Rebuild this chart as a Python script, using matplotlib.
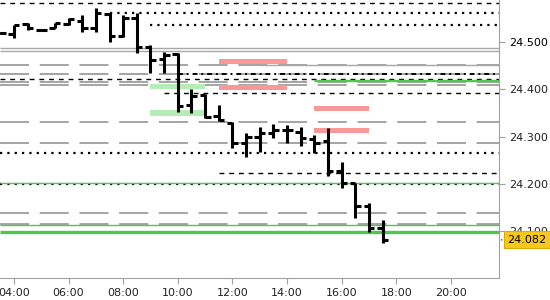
import numpy as np
import matplotlib
matplotlib.use("Agg")
import matplotlib.pyplot as plt
from matplotlib.patches import Rectangle

# 30-minute OHLC bars, time in hours
times = [3.5, 4.0, 4.5, 5.0, 5.5, 6.0, 6.5, 7.0, 7.5, 8.0, 8.5, 9.0, 9.5, 10.0,
         10.5, 11.0, 11.5, 12.0, 12.5, 13.0, 13.5, 14.0, 14.5, 15.0, 15.5,
         16.0, 16.5, 17.0, 17.5]
opens = [24.519, 24.517, 24.538, 24.525, 24.530, 24.538, 24.544, 24.530, 24.559,
         24.513, 24.551, 24.489, 24.464, 24.475, 24.367, 24.388, 24.344, 24.329,
         24.287, 24.299, 24.308, 24.314, 24.310, 24.295, 24.291, 24.227, 24.202,
         24.153, 24.107]
highs = [24.521, 24.536, 24.540, 24.527, 24.541, 24.551, 24.557, 24.572, 24.561,
         24.557, 24.561, 24.494, 24.479, 24.477, 24.401, 24.390, 24.367, 24.331,
         24.308, 24.320, 24.327, 24.325, 24.320, 24.304, 24.318, 24.246, 24.202,
         24.160, 24.124]
lows = [24.517, 24.508, 24.525, 24.523, 24.529, 24.536, 24.521, 24.521, 24.500,
        24.511, 24.477, 24.435, 24.435, 24.352, 24.350, 24.339, 24.333, 24.276,
        24.257, 24.268, 24.297, 24.287, 24.280, 24.265, 24.217, 24.192, 24.128,
        24.099, 24.075]
closes = [24.519, 24.536, 24.530, 24.525, 24.540, 24.549, 24.530, 24.561, 24.513,
          24.551, 24.489, 24.462, 24.473, 24.365, 24.386, 24.342, 24.335, 24.287,
          24.299, 24.308, 24.314, 24.314, 24.297, 24.287, 24.227, 24.202, 24.153,
          24.107, 24.082]

last_price = 24.082

# horizontal levels: (price, start hour or None for full width)
black_dashed = [(24.582, None), (24.422, None), (24.392, 9.5), (24.223, 11.5)]
black_dotted = [(24.562, 7.5), (24.536, 9.0), (24.265, None), (24.200, None)]
black_dashdot = [(24.432, 10.0)]
gray_solid = [(24.487, None), (24.482, None), (24.452, 13.0)]
gray_longdash = [24.452, 24.432, 24.415, 24.409, 24.331, 24.287, 24.139, 24.115]
green_thin = [(24.419, 15.0), (24.418, 15.0), (24.202, None), (24.113, None)]
green_thick = [24.098]

# zones: (start hour, end hour, low, high)
green_zones = [(9.0, 11.0, 24.401, 24.411), (9.0, 11.0, 24.344, 24.356)]
red_zones = [(11.5, 14.0, 24.454, 24.464), (11.5, 14.0, 24.399, 24.409),
             (15.0, 17.0, 24.354, 24.365), (15.0, 17.0, 24.308, 24.318)]

xmin, xmax = 3.49, 21.76
ymin, ymax = 24.0014, 24.5887

fig = plt.figure(figsize=(5.5, 3.0), dpi=100)
ax = fig.add_axes([0.0, 0.0733, 0.9073, 0.9267])
ax.set_xlim(xmin, xmax)
ax.set_ylim(ymin, ymax)

def start(s):
    return xmin if s is None else s

for y in gray_longdash:
    ax.hlines(y, xmin, xmax, color="#8c8c8c", lw=1.1, linestyles=[(0, (19, 7))], zorder=1)
for y, s in gray_solid:
    ax.hlines(y, start(s), xmax, color="#a8a8a8", lw=1.0, zorder=1)
for y, s in black_dashed:
    ax.hlines(y, start(s), xmax, color="black", lw=1.0, linestyles=[(0, (3.5, 3.5))], zorder=2)
for y, s in black_dotted:
    ax.hlines(y, start(s), xmax, color="black", lw=1.6, linestyles=[(0, (1, 2.3))], zorder=2)
for y, s in black_dashdot:
    ax.hlines(y, start(s), xmax, color="black", lw=1.4, linestyles=[(0, (2.5, 2, 1, 2))], zorder=2)
for y, s in green_thin:
    ax.hlines(y, start(s), xmax, color="#50c850", lw=1.0, zorder=2)
for y in green_thick:
    ax.hlines(y, xmin, xmax, color="#4cc84c", lw=2.4, zorder=2)

for x0, x1, lo, hi in green_zones:
    ax.add_patch(Rectangle((x0, lo), x1 - x0, hi - lo, color="#b6ecb6", lw=0, zorder=1.5))
for x0, x1, lo, hi in red_zones:
    ax.add_patch(Rectangle((x0, lo), x1 - x0, hi - lo, color="#f89898", lw=0, zorder=1.5))

# OHLC bars
t = np.array(times)
tw = 0.2
ax.vlines(t, lows, highs, color="black", lw=2.2, zorder=3)
ax.hlines(opens, t - tw, t, color="black", lw=2.2, zorder=3)
ax.hlines(closes, t, t + tw, color="black", lw=2.2, zorder=3)

# axes styling
for side in ["left", "top"]:
    ax.spines[side].set_visible(False)
ax.spines["right"].set_color("#a0a0a0")
ax.spines["bottom"].set_color("#a0a0a0")
ax.yaxis.tick_right()
ax.set_xticks(np.arange(4, 21, 2))
ax.set_xticklabels(["%02d:00" % h for h in range(4, 21, 2)])
yt = [24.1, 24.2, 24.3, 24.4, 24.5]
ax.set_yticks(yt)
ax.set_yticklabels(["%.3f" % v for v in yt])
ax.tick_params(axis="both", colors="#a0a0a0", labelcolor="#222222", labelsize=8, length=4)
ax.tick_params(axis="y", pad=3)
ax.get_yticklabels()[-1].set_color("black")

# current price label
ax.annotate("", xy=(1.0, last_price), xycoords=("axes fraction", "data"),
            xytext=(4, 0), textcoords="offset points", annotation_clip=False,
            arrowprops=dict(arrowstyle="-", color="black", lw=1))
ax.annotate("%.3f" % last_price, xy=(1.0, last_price), xycoords=("axes fraction", "data"),
            xytext=(6, 0), textcoords="offset points", va="center", ha="left",
            fontsize=8, color="black", zorder=10, annotation_clip=False,
            bbox=dict(boxstyle="square,pad=0.32", fc="#f7c81e", ec="#e0a800", lw=0.8))

fig.savefig("out.png", dpi=100)
